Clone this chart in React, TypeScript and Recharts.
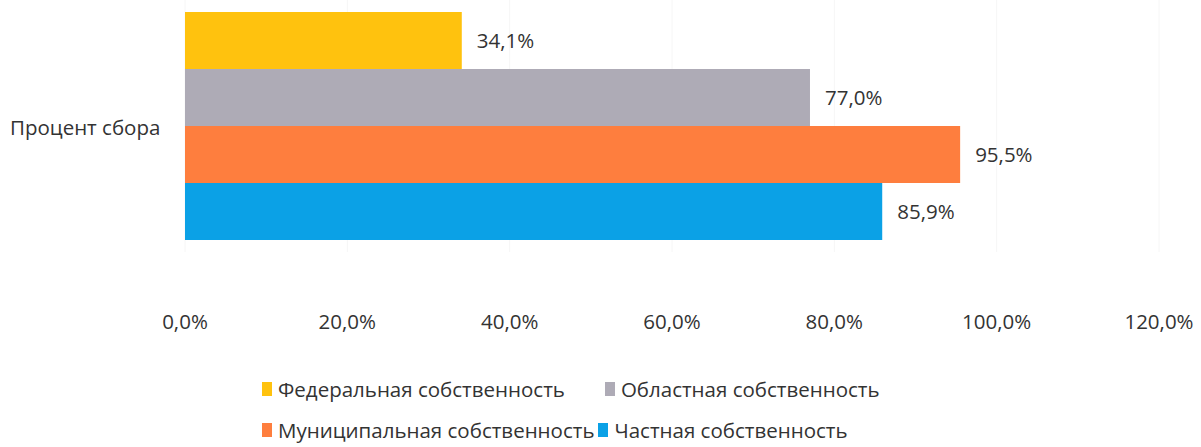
import React from 'react'
import { BarChart, Bar, XAxis, YAxis, CartesianGrid, Legend, LabelList } from 'recharts'

const categories = ['Процент сбора']
const seriesNames = [
  'Федеральная собственность',
  'Областная собственность',
  'Муниципальная собственность',
  'Частная собственность'
]
const seriesValues = [34.1, 77.0, 95.5, 85.9]
const seriesColors = ['#FFC20E', '#AEABB6', '#FE7E3E', '#0BA1E6']
const xTicks = [0, 20, 40, 60, 80, 100, 120]

const FONT = '"Open Sans", sans-serif'
const TEXT = '#333333'
const FS = 20.5

const data = categories.map((name) => {
  const row: Record<string, string | number> = { name }
  seriesNames.forEach((s, i) => {
    row[s] = seriesValues[i]
  })
  return row
})

const fmt = (v: number) => v.toFixed(1).replace('.', ',') + '%'

const XTick = ({ x, y, payload }: any) => (
  <text x={x} y={y + 69} textAnchor="middle" fill={TEXT} fontSize={FS} fontFamily={FONT}>
    {fmt(payload.value)}
  </text>
)

const YTick = ({ y, payload }: any) => (
  <text x={10} y={y + 9} textAnchor="start" fill={TEXT} fontSize={FS} fontFamily={FONT}>
    {payload.value}
  </text>
)

const LegendItem = ({ i, gap }: { i: number; gap: number }) => (
  <span style={{ display: 'inline-flex', alignItems: 'center', marginRight: gap }}>
    <span style={{ display: 'inline-block', width: 10, height: 14, background: seriesColors[i], marginRight: 6 }} />
    <span>{seriesNames[i]}</span>
  </span>
)

const renderLegend = () => (
  <div style={{ paddingLeft: 262, fontFamily: FONT, fontSize: FS, color: TEXT, lineHeight: '40px', whiteSpace: 'nowrap' }}>
    <div>
      <LegendItem i={0} gap={40} />
      <LegendItem i={1} gap={0} />
    </div>
    <div>
      <LegendItem i={2} gap={4} />
      <LegendItem i={3} gap={0} />
    </div>
  </div>
)

export default function App() {
  return (
    <div style={{ position: 'absolute', left: 0, top: 0, background: '#fff' }}>
      <BarChart
        width={1201}
        height={447}
        data={data}
        layout="vertical"
        margin={{ top: 0, right: 42, left: 0, bottom: 83 }}
        barCategoryGap={12}
        barGap={0}
      >
        <CartesianGrid horizontal={false} stroke="#f6f6f6" />
        <XAxis
          type="number"
          domain={[0, 120]}
          ticks={xTicks}
          axisLine={false}
          tickLine={false}
          tick={<XTick />}
          interval={0}
        />
        <YAxis
          type="category"
          dataKey="name"
          width={185}
          axisLine={false}
          tickLine={false}
          tick={<YTick />}
        />
        <Legend content={renderLegend} wrapperStyle={{ top: 368, left: 0, width: 1201 }} />
        {seriesNames.map((s, i) => (
          <Bar key={s} dataKey={s} fill={seriesColors[i]} isAnimationActive={false}>
            <LabelList
              dataKey={s}
              position="right"
              offset={15}
              formatter={(v: any) => fmt(Number(v))}
              style={{ fill: TEXT, fontSize: FS, fontFamily: FONT }}
            />
          </Bar>
        ))}
      </BarChart>
    </div>
  )
}
